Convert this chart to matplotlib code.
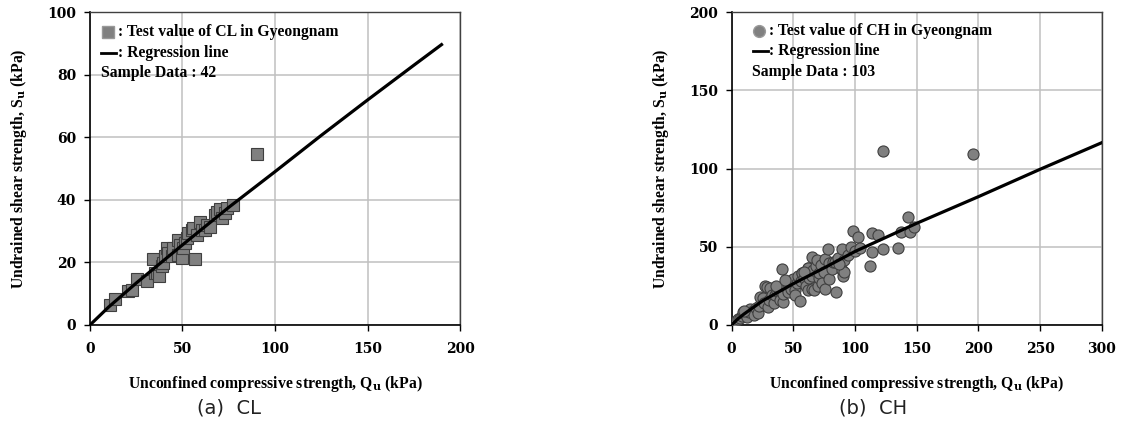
import numpy as np
import matplotlib
matplotlib.use("Agg")
import matplotlib.pyplot as plt

# CL samples (Gyeongnam), kPa
cl_qu = [10.8, 13.5, 20.7, 22.5, 25.2, 30.6, 33.9, 35.1, 36.0, 37.3, 39.1, 39.6,
         40.5, 41.4, 42.3, 44.1, 45.0, 47.7, 47.7, 48.6, 49.5, 50.1, 51.4, 52.3,
         53.2, 55.0, 55.9, 56.8, 57.7, 59.5, 60.4, 62.2, 63.0, 64.9, 67.6, 68.5,
         70.3, 71.2, 73.0, 73.9, 77.5, 90.5]
cl_su = [6.4, 8.3, 10.9, 11.2, 14.6, 14.1, 21.1, 16.5, 16.5, 15.7, 19.0, 19.7,
         21.9, 24.5, 23.0, 21.9, 24.5, 27.2, 22.4, 25.6, 21.3, 24.5, 26.1, 27.7,
         29.3, 30.4, 30.9, 21.0, 28.8, 33.0, 30.4, 30.4, 32.0, 31.4, 35.2, 36.2,
         37.0, 34.1, 35.7, 37.3, 38.2, 54.7]
# regression line for CL
cl_line_qu = [0, 10, 25, 50, 75, 100, 125, 150, 175, 190]
cl_line_su = [0, 5.7, 13.4, 25.6, 37.6, 49.0, 60.6, 71.9, 83.0, 89.6]

# CH samples (Gyeongnam), kPa
ch_qu = [2.0, 3.5, 5.0, 6.4, 8.0, 9.3, 11.0, 12.2, 13.7, 15.0, 17.0, 18.1, 19.5,
         21.0, 22.0, 23.3, 25.3, 26.0, 27.0, 28.3, 29.1, 30.0, 31.0, 32.6, 34.1,
         35.5, 37.0, 38.4, 39.2, 40.5, 41.4, 42.0, 44.3, 45.9, 45.9, 47.2, 48.0,
         50.1, 51.6, 51.6, 53.0, 54.0, 55.4, 56.0, 56.8, 57.4, 58.8, 60.0, 61.8,
         61.8, 62.1, 63.0, 64.9, 64.9, 65.0, 66.2, 67.0, 68.0, 69.0, 69.9, 70.5,
         71.0, 72.7, 73.0, 74.9, 75.7, 75.7, 77.8, 78.6, 79.2, 81.0, 82.4, 83.6,
         84.2, 86.0, 89.2, 89.4, 90.3, 90.9, 90.9, 94.0, 96.7, 98.2, 100.0, 102.5,
         103.9, 111.9, 113.6, 113.6, 118.6, 122.3, 122.9, 134.6, 136.9, 143.3,
         144.8, 147.7, 195.7, 10.0, 36.0, 43.0, 59.0, 87.0]
ch_su = [1.0, 2.8, 4.0, 4.3, 6.0, 8.5, 7.0, 5.3, 8.5, 10.0, 9.0, 6.4, 10.7,
         7.9, 12.0, 18.1, 17.1, 14.0, 24.9, 24.5, 11.7, 16.0, 23.4, 19.0, 13.9,
         19.2, 22.0, 22.4, 16.0, 35.6, 14.9, 20.0, 24.5, 21.3, 27.0, 26.7, 23.0,
         29.2, 22.4, 19.2, 26.7, 31.0, 15.5, 28.0, 33.0, 33.0, 29.9, 25.0, 36.2,
         22.4, 36.2, 30.0, 43.7, 31.3, 22.8, 35.2, 22.4, 38.0, 41.6, 24.9, 29.9,
         33.0, 38.4, 27.0, 34.1, 22.8, 42.0, 48.4, 29.2, 39.4, 36.0, 40.4, 40.5,
         21.3, 43.0, 35.1, 48.4, 31.3, 34.1, 41.6, 45.0, 50.1, 60.1, 47.0, 56.5,
         49.0, 38.0, 46.9, 59.1, 57.6, 110.9, 48.4, 49.5, 59.7, 69.1,
         59.7, 62.5, 109.6, 9.0, 25.0, 29.0, 34.0, 39.0]
ch_line_qu = [0, 5, 10, 25, 50, 75, 100, 150, 200, 250, 300]
ch_line_su = [0, 3.9, 7.0, 15.4, 26.4, 36.5, 47.0, 65.0, 82.0, 99.5, 116.5]

serif = "Liberation Serif"
plt.rcParams["mathtext.fontset"] = "dejavuserif"

fig = plt.figure(figsize=(11.22, 4.24), dpi=100)
ax1 = fig.add_axes([0.0802, 0.2335, 0.3298, 0.738])
ax2 = fig.add_axes([0.6521, 0.2335, 0.3298, 0.738])

fill = "#808080"
edge = "#3f3f3f"
txt = 11.3


def style_axes(ax, xmax, xstep, ymax, ystep):
    ax.set_xlim(0, xmax)
    ax.set_ylim(0, ymax)
    ax.set_xticks(np.arange(0, xmax + 1, xstep))
    ax.set_yticks(np.arange(0, ymax + 1, ystep))
    ax.grid(True, color="#c0c0c0", linewidth=1.1)
    ax.set_axisbelow(True)
    for s in ["left", "bottom"]:
        ax.spines[s].set_color("black")
        ax.spines[s].set_linewidth(1.2)
    for s in ["top", "right"]:
        ax.spines[s].set_color("#404040")
        ax.spines[s].set_linewidth(1.0)
    ax.tick_params(direction="out", length=4, width=1, colors="black")
    ax.tick_params(axis="x", pad=8)
    ax.tick_params(axis="y", pad=6)
    for lab in ax.get_xticklabels() + ax.get_yticklabels():
        lab.set_fontfamily("DejaVu Serif")
        lab.set_fontweight("bold")
        lab.set_fontsize(10)
    ax.set_xlabel(r"Unconfined compressive strength, Q$_{\mathbf{u}}$ (kPa)",
                  fontfamily=serif, fontweight="bold", fontsize=txt, labelpad=13)
    ax.set_ylabel(r"Undrained shear strength, S$_{\mathbf{u}}$ (kPa)",
                  fontfamily=serif, fontweight="bold", fontsize=txt, labelpad=13)


# (a) CL
style_axes(ax1, 200, 50, 100, 20)
ax1.plot(cl_qu, cl_su, linestyle="none", marker="s", markersize=8.5,
         markerfacecolor=fill, markeredgecolor=edge, markeredgewidth=0.8, zorder=3)
ax1.plot(cl_line_qu, cl_line_su, color="black", linewidth=2.3, zorder=4)
ax1.plot([0.05], [0.935], transform=ax1.transAxes, marker="s", markersize=8.5,
         markerfacecolor=fill, markeredgecolor="#999999", linestyle="none")
ax1.text(0.075, 0.935, ": Test value of CL in Gyeongnam", transform=ax1.transAxes,
         fontfamily=serif, fontweight="bold", fontsize=txt, va="center")
ax1.plot([0.03, 0.07], [0.87, 0.87], transform=ax1.transAxes, color="black",
         linewidth=2)
ax1.text(0.075, 0.87, ": Regression line", transform=ax1.transAxes,
         fontfamily=serif, fontweight="bold", fontsize=txt, va="center")
ax1.text(0.03, 0.805, "Sample Data : 42", transform=ax1.transAxes,
         fontfamily=serif, fontweight="bold", fontsize=txt, va="center")

# (b) CH
style_axes(ax2, 300, 50, 200, 50)
ax2.plot(ch_qu, ch_su, linestyle="none", marker="o", markersize=8,
         markerfacecolor=fill, markeredgecolor=edge, markeredgewidth=0.8, zorder=3)
ax2.plot(ch_line_qu, ch_line_su, color="black", linewidth=2.3, zorder=4)
ax2.plot([0.075], [0.94], transform=ax2.transAxes, marker="o", markersize=8.5,
         markerfacecolor=fill, markeredgecolor="#999999", linestyle="none")
ax2.text(0.1, 0.94, ": Test value of CH in Gyeongnam", transform=ax2.transAxes,
         fontfamily=serif, fontweight="bold", fontsize=txt, va="center")
ax2.plot([0.058, 0.097], [0.875, 0.875], transform=ax2.transAxes, color="black",
         linewidth=2)
ax2.text(0.1, 0.875, ": Regression line", transform=ax2.transAxes,
         fontfamily=serif, fontweight="bold", fontsize=txt, va="center")
ax2.text(0.055, 0.81, "Sample Data : 103", transform=ax2.transAxes,
         fontfamily=serif, fontweight="bold", fontsize=txt, va="center")

fig.text(0.204, 0.038, "(a)  CL", ha="center", va="center", fontsize=14,
         fontfamily="DejaVu Sans", color="#222222")
fig.text(0.778, 0.038, "(b)  CH", ha="center", va="center", fontsize=14,
         fontfamily="DejaVu Sans", color="#222222")

fig.savefig("out.png", dpi=100)
